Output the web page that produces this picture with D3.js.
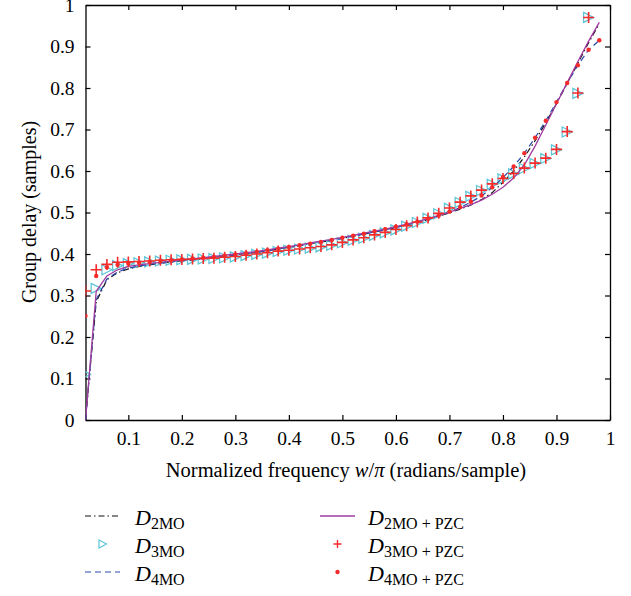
<!DOCTYPE html>
<html>
<head>
<meta charset="utf-8">
<script src="https://cdn.jsdelivr.net/npm/d3@7"></script>
<style>
  body { margin: 0; background: #fff; }
  text { font-family: "Liberation Serif", "Times New Roman", serif; fill: #000; }
</style>
</head>
<body>
<div id="chart"></div>
<script>
// normalized frequency (w/pi) sample points
var freq = [0.02,0.04,0.06,0.08,0.10,0.12,0.14,0.16,0.18,0.20,0.22,0.24,0.26,0.28,0.30,0.32,0.34,
            0.36,0.38,0.40,0.42,0.44,0.46,0.48,0.50,0.52,0.54,0.56,0.58,0.60,0.62,0.64,0.66,0.68,
            0.70,0.72,0.74,0.76,0.78,0.80,0.82,0.84,0.86,0.88,0.90,0.92,0.94,0.96,0.98];

// group delay values
var d2mo = [0.000,0.285,0.338,0.355,0.364,0.370,0.374,0.378,0.381,0.384,0.386,0.389,0.392,0.395,0.398,0.401,0.404,
            0.408,0.412,0.416,0.420,0.425,0.429,0.433,0.438,0.443,0.448,0.453,0.458,0.464,0.470,0.476,0.483,0.491,
            0.499,0.508,0.518,0.531,0.548,0.573,0.600,0.634,0.673,0.716,0.762,0.811,0.860,0.909,0.955];
var d3mo = [0.110,0.317,0.362,0.372,0.377,0.379,0.381,0.383,0.385,0.386,0.387,0.388,0.389,0.391,0.393,0.396,0.399,
            0.402,0.406,0.409,0.412,0.414,0.417,0.421,0.427,0.433,0.438,0.445,0.451,0.458,0.467,0.476,0.486,0.497,
            0.510,0.524,0.539,0.553,0.568,0.581,0.593,0.606,0.618,0.630,0.651,0.694,0.787,0.970,null];
var d4mo = [0.000,0.290,0.340,0.357,0.366,0.371,0.375,0.378,0.381,0.384,0.386,0.389,0.392,0.395,0.398,0.401,0.404,
            0.408,0.412,0.416,0.420,0.425,0.429,0.433,0.438,0.443,0.448,0.453,0.458,0.464,0.470,0.476,0.484,0.492,
            0.501,0.512,0.525,0.540,0.560,0.584,0.611,0.643,0.680,0.721,0.766,0.812,0.855,0.892,0.915];
var d2pzc = [0.000,0.310,0.347,0.362,0.370,0.374,0.377,0.380,0.383,0.386,0.388,0.391,0.394,0.397,0.400,0.403,0.406,
             0.410,0.414,0.418,0.422,0.427,0.431,0.435,0.440,0.445,0.450,0.455,0.460,0.466,0.472,0.478,0.485,0.493,
             0.501,0.510,0.519,0.530,0.544,0.561,0.583,0.615,0.660,0.711,0.762,0.813,0.864,0.913,0.958];
var d3pzc = [0.311,0.362,0.375,0.380,0.381,0.382,0.383,0.385,0.386,0.387,0.388,0.389,0.390,0.392,0.394,0.397,0.400,
             0.403,0.407,0.409,0.412,0.415,0.418,0.422,0.428,0.434,0.439,0.446,0.452,0.459,0.468,0.477,0.487,0.498,
             0.511,0.525,0.540,0.554,0.569,0.582,0.594,0.607,0.619,0.631,0.652,0.695,0.788,0.970,null];
var d4pzc = [0.251,0.347,0.368,0.374,0.377,0.379,0.381,0.383,0.385,0.387,0.389,0.391,0.393,0.396,0.399,0.402,0.405,
             0.409,0.413,0.417,0.421,0.425,0.429,0.434,0.439,0.444,0.449,0.455,0.460,0.466,0.472,0.478,0.485,0.493,
             0.502,0.513,0.526,0.541,0.561,0.585,0.611,0.643,0.680,0.721,0.766,0.812,0.855,0.892,0.915];

var xTicks = [0.1,0.2,0.3,0.4,0.5,0.6,0.7,0.8,0.9,1];
var yTicks = [0,0.1,0.2,0.3,0.4,0.5,0.6,0.7,0.8,0.9,1];

var width = 631, height = 596;
// plot box edges ("top" is reserved on window, so use a margin object)
var box = { left: 85.5, right: 610, top: 5, bottom: 420 };

var svg = d3.select("#chart").append("svg")
    .attr("width", width)
    .attr("height", height);

var x = d3.scaleLinear().domain([0.02, 1]).range([box.left, box.right]);
var y = d3.scaleLinear().domain([0, 1]).range([box.bottom, box.top]);

svg.append("defs").append("clipPath").attr("id", "clip")
  .append("rect").attr("x", box.left).attr("y", box.top - 2)
  .attr("width", box.right - box.left).attr("height", box.bottom - box.top + 2);

var fmt = function(d) { return d === 0 || d === 1 ? String(d) : d3.format(".1f")(d); };

// axes, ticks pointing inward on all four sides
svg.append("g").attr("transform", "translate(0," + box.bottom + ")")
    .call(d3.axisBottom(x).tickValues(xTicks).tickSizeInner(-5).tickSizeOuter(0).tickPadding(11).tickFormat(fmt));
svg.append("g").attr("transform", "translate(" + box.left + ",0)")
    .call(d3.axisLeft(y).tickValues(yTicks).tickSizeInner(-5).tickSizeOuter(0).tickPadding(11).tickFormat(fmt));
svg.append("g").attr("transform", "translate(0," + box.top + ")")
    .call(d3.axisTop(x).tickValues(xTicks).tickSizeInner(-5).tickSizeOuter(0).tickFormat(""));
svg.append("g").attr("transform", "translate(" + box.right + ",0)")
    .call(d3.axisRight(y).tickValues(yTicks).tickSizeInner(-5).tickSizeOuter(0).tickFormat(""));

svg.selectAll(".domain").attr("stroke", "#000").attr("stroke-width", 1.3);
svg.selectAll(".tick line").attr("stroke", "#000").attr("stroke-width", 1.2);
svg.selectAll(".tick text").style("font-family", "Liberation Serif").style("font-size", "19.5px").attr("fill", "#000");

// axis titles
svg.append("text")
    .attr("x", 346).attr("y", 477)
    .attr("text-anchor", "middle")
    .style("font-size", "20.5px")
    .html('Normalized frequency <tspan font-style="italic">w</tspan>/<tspan font-style="italic">π</tspan> (radians/sample)');

svg.append("text")
    .attr("transform", "translate(36,212) rotate(-90)")
    .attr("text-anchor", "middle")
    .style("font-size", "20px")
    .text("Group delay (samples)");

var plot = svg.append("g").attr("clip-path", "url(#clip)");

function lineOf(vals) {
  return d3.line()
    .defined(function(d, i) { return vals[i] != null; })
    .x(function(d, i) { return x(freq[i]); })
    .y(function(d, i) { return y(vals[i]); })(freq);
}
function pts(vals) {
  return freq.map(function(f, i) { return [f, vals[i]]; }).filter(function(p) { return p[1] != null; });
}

var colBlack = "#111", colCyan = "#5ec6d8", colBlue = "#2b4aa8", colPurple = "#a03ca0", colRed = "#f52a2a";
var triPath = "M-5,-5L5,0L-5,5Z", triSmall = "M-3.5,-4L4,0L-3.5,4Z";
var plusPath = "M-5.5,0H5.5M0,-5.5V5.5", plusSmall = "M-4,0H4M0,-4V4";

// D2MO
plot.append("path").attr("d", lineOf(d2mo)).attr("fill", "none")
    .attr("stroke", colBlack).attr("stroke-width", 1.2).attr("stroke-dasharray", "6,3,1.5,3");
// D3MO
plot.selectAll(".tri").data(pts(d3mo)).enter().append("path").attr("class", "tri")
    .attr("transform", function(p) { return "translate(" + x(p[0]) + "," + y(p[1]) + ")"; })
    .attr("d", triPath).attr("fill", "none").attr("stroke", colCyan).attr("stroke-width", 1.3);
// D4MO
plot.append("path").attr("d", lineOf(d4mo)).attr("fill", "none")
    .attr("stroke", colBlue).attr("stroke-width", 1.2).attr("stroke-dasharray", "6,4");
// D2MO + PZC
plot.append("path").attr("d", lineOf(d2pzc)).attr("fill", "none")
    .attr("stroke", colPurple).attr("stroke-width", 1.3);
// D3MO + PZC
plot.selectAll(".plus").data(pts(d3pzc)).enter().append("path").attr("class", "plus")
    .attr("transform", function(p) { return "translate(" + x(p[0]) + "," + y(p[1]) + ")"; })
    .attr("d", plusPath).attr("stroke", colRed).attr("stroke-width", 1.6);
// D4MO + PZC
plot.selectAll(".dot").data(pts(d4pzc)).enter().append("circle").attr("class", "dot")
    .attr("cx", function(p) { return x(p[0]); }).attr("cy", function(p) { return y(p[1]); })
    .attr("r", 2.2).attr("fill", colRed);

// legend
var legend = svg.append("g");
var rows = [
  { col: 0, row: 0, sub: "2MO", pzc: false, kind: "dashdot" },
  { col: 0, row: 1, sub: "3MO", pzc: false, kind: "tri" },
  { col: 0, row: 2, sub: "4MO", pzc: false, kind: "dash" },
  { col: 1, row: 0, sub: "2MO", pzc: true, kind: "solid" },
  { col: 1, row: 1, sub: "3MO", pzc: true, kind: "plus" },
  { col: 1, row: 2, sub: "4MO", pzc: true, kind: "dot" }
];
var colX = [85, 320], textX = [135, 368], rowY = [516, 544, 572];

rows.forEach(function(r) {
  var lx = colX[r.col], ly = rowY[r.row], cx = lx + 17.5;
  if (r.kind === "dashdot") {
    legend.append("line").attr("x1", lx).attr("x2", lx + 35).attr("y1", ly).attr("y2", ly)
      .attr("stroke", colBlack).attr("stroke-width", 1.2).attr("stroke-dasharray", "6,3,1.5,3");
  } else if (r.kind === "dash") {
    legend.append("line").attr("x1", lx).attr("x2", lx + 35).attr("y1", ly).attr("y2", ly)
      .attr("stroke", colBlue).attr("stroke-width", 1.2).attr("stroke-dasharray", "6,4");
  } else if (r.kind === "solid") {
    legend.append("line").attr("x1", lx).attr("x2", lx + 35).attr("y1", ly).attr("y2", ly)
      .attr("stroke", colPurple).attr("stroke-width", 1.3);
  } else if (r.kind === "tri") {
    legend.append("path").attr("transform", "translate(" + cx + "," + ly + ")")
      .attr("d", triSmall).attr("fill", "none").attr("stroke", colCyan).attr("stroke-width", 1.2);
  } else if (r.kind === "plus") {
    legend.append("path").attr("transform", "translate(" + cx + "," + ly + ")")
      .attr("d", plusSmall).attr("stroke", colRed).attr("stroke-width", 1.4);
  } else {
    legend.append("circle").attr("cx", cx).attr("cy", ly).attr("r", 2.2).attr("fill", colRed);
  }
  var t = legend.append("text").attr("x", textX[r.col]).attr("y", ly + 9).style("font-size", "22px");
  t.append("tspan").attr("font-style", "italic").text("D");
  t.append("tspan").attr("dy", 4).style("font-size", "16px").text(r.sub + (r.pzc ? " + PZC" : ""));
});
</script>
</body>
</html>
